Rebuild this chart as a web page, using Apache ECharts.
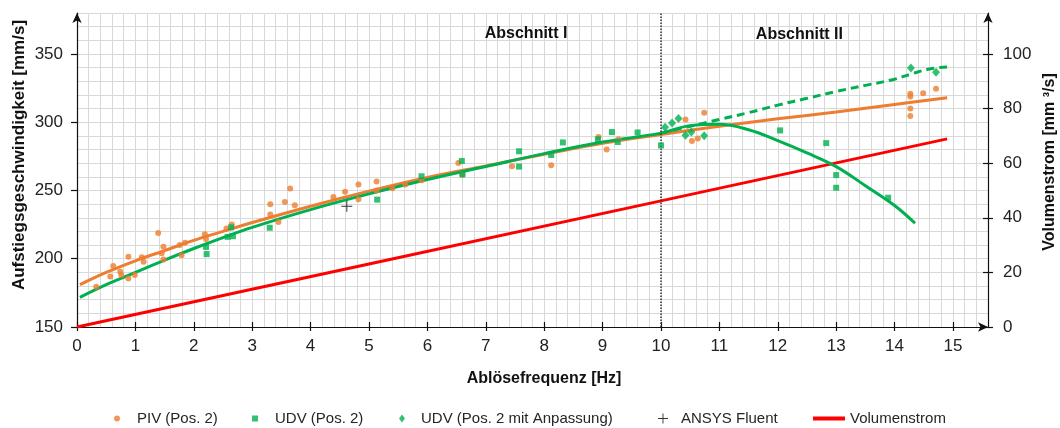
<!DOCTYPE html>
<html>
<head>
<meta charset="utf-8">
<script src="https://cdn.jsdelivr.net/npm/echarts@6/dist/echarts.min.js"></script>
<style>
html,body{margin:0;padding:0;background:#fff;}
#chart{width:1060px;height:428px;}
</style>
</head>
<body>
<div id="chart"></div>
<script>
// ---------- data ----------
const xTicks = [0,1,2,3,4,5,6,7,8,9,10,11,12,13,14,15];
const yLeftTicks = [150,200,250,300,350];
const yRightTicks = [0,20,40,60,80,100];

const pivPoints = [[0.33,179.5],[0.57,187],[0.62,194.6],[0.74,190.4],[0.76,188],[0.88,201.4],[0.88,185.6],[0.99,188],[1.11,201],[1.14,197.8],[1.39,218.9],[1.45,204],[1.48,208.7],[1.48,199.5],[1.76,210],[1.85,211.7],[1.79,202.6],[2.19,218],[2.21,214.5],[2.56,222.1],[2.65,225.1],[3.31,240],[3.31,232.4],[3.45,227],[3.56,241.6],[3.65,251.4],[3.73,239.2],[4.39,245.2],[4.59,249],[4.82,254.4],[4.82,243.6],[5.13,256.5],[5.13,250],[5.4,251.6],[5.62,254.3],[5.9,257.5],[6.53,270.1],[6.6,261.5],[7.45,267.8],[8.12,268.4],[8.93,289.1],[9.07,280.1],[9.27,287.5],[10.42,302],[10.53,286.2],[10.63,288],[10.74,307],[14.27,320.8],[14.27,318.9],[14.27,310],[14.27,304.5],[14.49,321.3],[14.71,324.5]];

const udvPoints = [[2.21,208.7],[2.22,203.4],[2.58,216],[2.64,223],[2.67,216.5],[3.3,222.7],[5.14,243.3],[5.9,260.4],[6.59,271.6],[6.6,261.8],[7.57,278.7],[7.57,267.5],[8.12,276],[8.32,285.2],[8.92,287.5],[9.16,292.8],[9.26,285.5],[9.6,292.5],[10.0,283],[12.04,294],[12.83,284.7],[13.0,261.3],[13.0,252],[13.89,244.7]];

const udvAdjPoints = [[10.07,296.4],[10.19,299.4],[10.3,302.8],[10.42,290.4],[10.52,292.8],[10.74,290],[14.28,339.7],[14.71,336.6]];

const ansysPoints = [[4.62,238.4]];

const volumeFlow = [[0,0],[5,23.1],[10,46.2],[14.9,68.9]];

const pivFit = [[0.05,181],[0.5,190],[1,198.5],[1.5,206],[2,213.5],[2.5,220],[3,226.5],[4,238.5],[5,249.5],[6,259.5],[7,268],[8,276.5],[9,284.5],[10,291],[11,297],[12,302.5],[13,307.5],[14,313],[14.9,318]];

const udvFit = [[0.05,171.7],[0.5,181],[1,190],[1.5,199],[2,207.5],[2.5,215.5],[3,223],[4,236],[5,247.5],[6,258],[7,267.5],[8,277],[9,285.5],[10,292],[10.5,297.5],[11,298.5],[11.5,294.5],[12,286.5],[12.5,277.5],[13,267.5],[13.5,253.5],[14,239],[14.35,226]];

const udvAdjFit = [[10,292],[10.5,297],[11,302],[11.5,307],[12,312.5],[12.5,317.5],[13,322.5],[13.5,327],[14,331.5],[14.3,335.5],[14.6,339],[14.9,340.5]];

const sectionNames = ['Abschnitt I','Abschnitt II'];
const sectionBoundary = 10;

// ---------- chart ----------
const FONT = '"Liberation Sans", Arial, sans-serif';
const ORANGE = '#ED7D31', GREEN = '#00B050', RED = '#FF0000';
const PLUS = 'path://M5,0h1v5h5v1h-5v5h-1v-5h-5v-1h5z';
const chart = echarts.init(document.getElementById('chart'), null, {renderer:'canvas'});

const labelStyle = {fontSize:17, color:'#222', fontFamily:FONT};
const legendText = {fontSize:15, color:'#262626', fontFamily:FONT};

function legendItem(name, icon, left, w, h, padLeft){
  return {data:[{name:name, icon:icon}], left:left, top:411, itemWidth:w, itemHeight:h, padding:0,
    selectedMode:false, textStyle:Object.assign({}, legendText, {padding:[0,0,0,padLeft]})};
}

const option = {
  animation:false,
  backgroundColor:'#fff',
  grid:{left:77, right:72, top:13, bottom:101, containLabel:false},
  legend:[
    legendItem('PIV (Pos. 2)','circle',114,6,6,12),
    legendItem('UDV (Pos. 2)','rect',252,6,6,12),
    legendItem('UDV (Pos. 2 mit Anpassung)','diamond',399,6,8,11),
    legendItem('ANSYS Fluent',PLUS,658,10,10,8),
    legendItem('Volumenstrom','rect',813,32,4,0)
  ],
  xAxis:[
    {type:'value', min:0, max:15.6, interval:0.2, position:'bottom',
     splitLine:{show:true, lineStyle:{color:'#d9d9d9', width:1}},
     axisLine:{show:false, onZero:false}, axisTick:{show:false}, axisLabel:{show:false}},
    {type:'value', min:0, max:15.6, interval:1, position:'bottom',
     splitLine:{show:false},
     axisLine:{show:true, onZero:false, symbol:['none','arrow'], symbolSize:[7,10], lineStyle:{color:'#111', width:1.2}},
     axisTick:{show:true, length:4, customValues:xTicks, lineStyle:{color:'#111', width:1.2}},
     axisLabel:Object.assign({customValues:xTicks, margin:11}, labelStyle)},
    {type:'value', min:0, max:15.6, interval:1, position:'bottom',
     splitLine:{show:false}, axisLine:{show:false, onZero:false},
     axisTick:{show:true, inside:true, length:5, customValues:xTicks, lineStyle:{color:'#111', width:1.2}},
     axisLabel:{show:false}}
  ],
  yAxis:[
    {type:'value', min:150, max:380, interval:10, position:'left',
     splitLine:{show:true, lineStyle:{color:'#d9d9d9', width:1}},
     axisLine:{show:false, onZero:false}, axisTick:{show:false}, axisLabel:{show:false}},
    {type:'value', min:150, max:380, interval:50, position:'left',
     splitLine:{show:false},
     axisLine:{show:true, onZero:false, symbol:['none','arrow'], symbolSize:[7,10], lineStyle:{color:'#111', width:1.2}},
     axisTick:{show:true, length:6, customValues:yLeftTicks, lineStyle:{color:'#111', width:1.2}},
     axisLabel:Object.assign({customValues:yLeftTicks, margin:14}, labelStyle)},
    {type:'value', min:0, max:115, interval:20, position:'right',
     splitLine:{show:false},
     axisLine:{show:true, onZero:false, symbol:['none','arrow'], symbolSize:[7,10], lineStyle:{color:'#111', width:1.2}},
     axisTick:{show:true, length:5, customValues:yRightTicks, lineStyle:{color:'#111', width:1.2}},
     axisLabel:Object.assign({customValues:yRightTicks, margin:15}, labelStyle)},
    {type:'value', min:0, max:115, interval:20, position:'right',
     splitLine:{show:false}, axisLine:{show:false, onZero:false},
     axisTick:{show:true, inside:true, length:5, customValues:yRightTicks, lineStyle:{color:'#111', width:1.2}},
     axisLabel:{show:false}}
  ],
  series:[
    {name:'Volumenstrom', type:'line', xAxisIndex:0, yAxisIndex:2, data:volumeFlow,
     showSymbol:false, symbol:'none', color:RED, lineStyle:{color:RED, width:3}, z:2},
    {name:'PIV Fit', type:'line', xAxisIndex:0, yAxisIndex:0, data:pivFit, smooth:0.4,
     showSymbol:false, symbol:'none', color:ORANGE, lineStyle:{color:ORANGE, width:3}, z:3,
     markLine:{silent:true, symbol:['none','none'], label:{show:false},
       lineStyle:{color:'#333', type:'dotted', width:1.5}, data:[{xAxis:sectionBoundary}]}},
    {name:'UDV Fit Anpassung', type:'line', xAxisIndex:0, yAxisIndex:0, data:udvAdjFit, smooth:0.4,
     showSymbol:false, symbol:'none', color:GREEN, lineStyle:{color:GREEN, width:3, type:[8,5]}, z:3},
    {name:'UDV Fit', type:'line', xAxisIndex:0, yAxisIndex:0, data:udvFit, smooth:0.4,
     showSymbol:false, symbol:'none', color:GREEN, lineStyle:{color:GREEN, width:3}, z:4},
    {name:'PIV (Pos. 2)', type:'scatter', xAxisIndex:0, yAxisIndex:0, data:pivPoints,
     symbol:'circle', symbolSize:6, itemStyle:{color:ORANGE}, z:5},
    {name:'UDV (Pos. 2)', type:'scatter', xAxisIndex:0, yAxisIndex:0, data:udvPoints,
     symbol:'rect', symbolSize:6, itemStyle:{color:GREEN}, z:6},
    {name:'UDV (Pos. 2 mit Anpassung)', type:'scatter', xAxisIndex:0, yAxisIndex:0, data:udvAdjPoints,
     symbol:'diamond', symbolSize:[8,9], itemStyle:{color:GREEN}, z:6},
    {name:'ANSYS Fluent', type:'scatter', xAxisIndex:0, yAxisIndex:0, data:ansysPoints,
     symbol:PLUS, symbolSize:11, itemStyle:{color:'#000'}, z:7}
  ]
};
chart.setOption(option);

// annotations and axis titles
const p1 = chart.convertToPixel({xAxisIndex:0, yAxisIndex:0}, [7.69, 365]);
const p2 = chart.convertToPixel({xAxisIndex:0, yAxisIndex:0}, [12.37, 364.5]);
function txt(text, x, y, size, rot){
  return {type:'text', x:x, y:y, rotation:rot||0, z:100,
    style:{text:text, fill:'#111', font:'bold '+size+'px '+FONT,
      align:'center', verticalAlign:'middle', textAlign:'center', textVerticalAlign:'middle'}};
}
chart.setOption({graphic:[
  txt(sectionNames[0], p1[0], p1[1], 16),
  txt(sectionNames[1], p2[0], p2[1], 16),
  txt('Ablösefrequenz [Hz]', 544, 379, 16),
  txt('Aufstiegsgeschwindigkeit [mm/s]', 19, 155, 17, Math.PI/2),
  txt('Volumenstrom [mm \u00B3/s]', 1050, 162, 16, Math.PI/2)
]});
</script>
</body>
</html>
